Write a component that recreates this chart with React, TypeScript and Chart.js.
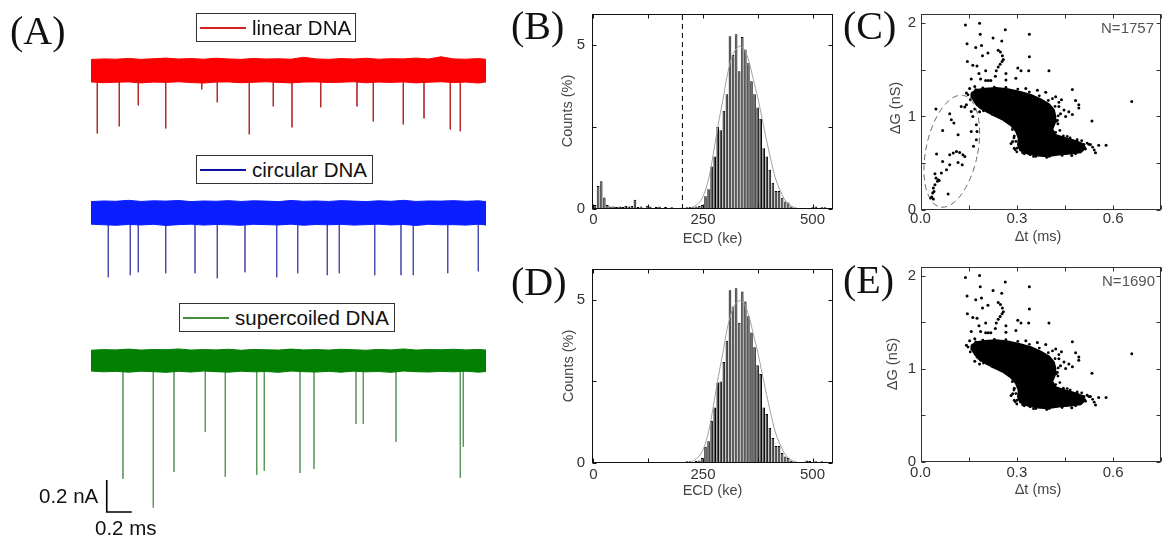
import React, { useEffect, useRef } from 'react';
import { Chart, registerables } from 'chart.js';

Chart.register(...registerables);

const SANS = '"Liberation Sans", Arial, sans-serif';
const SERIF = '"Liberation Serif", "Times New Roman", serif';

// ---------------- Panel A : current traces ----------------
const ENV_T = [0, 0.1, 0.2, 0.3, 0.4, 0.5, 0.6, 0.7, 0.8, 0.9, 1.0, 1.1, 1.2, 1.3, 1.4, 1.5, 1.6, 1.7, 1.8, 1.9, 2.0, 2.1, 2.2, 2.3, 2.4, 2.5, 2.6, 2.7, 2.8, 2.9, 3.0, 3.1, 3.16];
const RED_BASE = -0.44;
const BLUE_BASE = -1.33;
const GREEN_BASE = -2.253;
const RED_UP = [0.068, 0.072, 0.070, 0.075, 0.069, 0.073, 0.077, 0.071, 0.074, 0.070, 0.076, 0.072, 0.069, 0.075, 0.071, 0.073, 0.070, 0.082, 0.072, 0.069, 0.074, 0.071, 0.076, 0.070, 0.073, 0.072, 0.077, 0.071, 0.085, 0.072, 0.070, 0.074, 0.069];
const RED_DN = [0.072, 0.077, 0.074, 0.072, 0.078, 0.073, 0.075, 0.071, 0.076, 0.079, 0.073, 0.072, 0.077, 0.074, 0.071, 0.075, 0.078, 0.073, 0.072, 0.076, 0.074, 0.071, 0.077, 0.073, 0.075, 0.072, 0.078, 0.074, 0.071, 0.076, 0.073, 0.079, 0.072];
const BLUE_UP = [0.070, 0.074, 0.072, 0.078, 0.071, 0.075, 0.073, 0.077, 0.070, 0.074, 0.072, 0.076, 0.071, 0.075, 0.073, 0.070, 0.077, 0.072, 0.074, 0.071, 0.076, 0.073, 0.070, 0.075, 0.072, 0.078, 0.071, 0.074, 0.073, 0.076, 0.072, 0.075, 0.070];
const BLUE_DN = [0.071, 0.075, 0.078, 0.073, 0.076, 0.072, 0.079, 0.074, 0.071, 0.077, 0.073, 0.075, 0.078, 0.072, 0.074, 0.076, 0.071, 0.078, 0.073, 0.075, 0.072, 0.077, 0.074, 0.071, 0.076, 0.073, 0.079, 0.072, 0.075, 0.074, 0.077, 0.071, 0.076];
const GREEN_UP = [0.064, 0.068, 0.066, 0.071, 0.065, 0.069, 0.067, 0.072, 0.065, 0.068, 0.066, 0.070, 0.064, 0.069, 0.067, 0.065, 0.071, 0.066, 0.068, 0.065, 0.070, 0.067, 0.064, 0.069, 0.066, 0.072, 0.065, 0.068, 0.067, 0.070, 0.066, 0.069, 0.065];
const GREEN_DN = [0.066, 0.071, 0.068, 0.073, 0.067, 0.070, 0.074, 0.068, 0.072, 0.066, 0.070, 0.073, 0.067, 0.071, 0.069, 0.074, 0.066, 0.070, 0.072, 0.068, 0.073, 0.067, 0.071, 0.069, 0.074, 0.066, 0.070, 0.072, 0.068, 0.071, 0.067, 0.073, 0.069];

const RED_SPIKE_T = [0.050, 0.226, 0.378, 0.598, 0.886, 1.010, 1.266, 1.458, 1.608, 1.838, 2.128, 2.258, 2.498, 2.664, 2.874, 2.954];
const RED_SPIKE_DEPTH = [0.394, 0.35, 0.219, 0.363, 0.119, 0.2, 0.4, 0.225, 0.356, 0.231, 0.225, 0.319, 0.338, 0.3, 0.369, 0.381];
const BLUE_SPIKE_T = [0.138, 0.314, 0.378, 0.598, 0.832, 1.010, 1.232, 1.486, 1.654, 1.890, 1.986, 2.270, 2.480, 2.578, 2.854, 3.098];
const BLUE_SPIKE_DEPTH = [0.403, 0.39, 0.372, 0.378, 0.378, 0.409, 0.372, 0.403, 0.378, 0.39, 0.378, 0.39, 0.39, 0.39, 0.378, 0.366];
const GREEN_SPIKE_T = [0.256, 0.498, 0.664, 0.914, 1.074, 1.326, 1.386, 1.672, 1.784, 2.12, 2.178, 2.44, 2.954, 2.978];
const GREEN_SPIKE_DEPTH = [0.74, 0.92, 0.697, 0.447, 0.728, 0.715, 0.69, 0.703, 0.678, 0.397, 0.397, 0.509, 0.734, 0.54];

const SCALEBAR_T = [0.126, 0.126, 0.326];
const SCALEBAR_I = [-3.0, -3.2, -3.2];

// ---------------- Panels B / D : ECD histograms ----------------
const BIN_WIDTH = 7;
const B_COUNTS = [
  0.12, 0.7, 0.85, 0.35, 0.12, 0.08, 0.08, 0.06, 0.08, 0.06,
  0.1, 0.08, 0.1, 0.28, 0.06, 0.08, 0.04, 0.1, 0.08, 0.03,
  0.06, 0.08, 0.03, 0.06, 0, 0.05, 0.03, 0, 0.04, 0.04,
  0.05, 0.06, 0.05, 0.08, 0.1, 0.12, 0.39, 0.6, 1.3, 1.6,
  2.5, 2.4, 3.0, 3.5, 5.27, 4.7, 5.33, 4.2, 5.25, 4.87,
  4.45, 3.9, 3.5, 3.1, 2.75, 1.85, 1.6, 1.2, 0.8, 0.55,
  0.55, 0.34, 0.23, 0.2, 0.08, 0, 0, 0, 0, 0,
  0, 0.05, 0.08, 0.03, 0.05, 0.05, 0.03, 0];
const D_COUNTS = [
  0, 0, 0, 0, 0, 0, 0, 0, 0, 0,
  0, 0, 0, 0, 0, 0, 0, 0, 0, 0,
  0, 0, 0, 0, 0, 0, 0, 0, 0, 0,
  0.05, 0.05, 0.03, 0.06, 0.08, 0.15, 0.5, 0.67, 1.29, 1.7,
  2.47, 2.5, 3.1, 3.75, 5.3, 4.8, 5.36, 4.3, 5.26, 4.95,
  4.5, 4.0, 3.55, 3.0, 2.73, 1.7, 1.5, 1.08, 0.77, 0.52,
  0.52, 0.31, 0.2, 0.15, 0.07, 0, 0, 0, 0.04, 0.08,
  0.06, 0.03, 0.05, 0, 0.05, 0.04, 0.03, 0];
const ECD_BINS = B_COUNTS.map((_, k) => BIN_WIDTH * k + BIN_WIDTH / 2);
const FIT_ECD = [215, 225, 235, 245, 255, 265, 275, 285, 295, 305, 315, 325, 335, 345, 355, 365, 375, 385, 395, 405, 415, 425, 435, 445, 455, 465];
const FIT_B = [0.0, 0.05, 0.12, 0.26, 0.55, 1.05, 1.8, 2.6, 3.3, 4.05, 4.6, 4.88, 4.97, 4.85, 4.5, 3.95, 3.4, 2.75, 2.1, 1.5, 0.95, 0.6, 0.32, 0.15, 0.07, 0.02];
const FIT_D = [0.0, 0.05, 0.13, 0.28, 0.58, 1.1, 1.85, 2.65, 3.35, 4.1, 4.62, 4.9, 4.98, 4.86, 4.5, 3.95, 3.4, 2.75, 2.1, 1.5, 0.95, 0.6, 0.32, 0.15, 0.07, 0.02];
const ECD_CUTOFF = 203;
const ECD_TICKS = [0, 125, 250, 375, 500];
const ECD_TICK_LABELS = ['0', '', '250', '', '500'];
const COUNT_TICKS = [0, 2.5, 5];
const COUNT_TICK_LABELS = ['0', '', '5'];

// ---------------- Panels C / E : scatter ----------------
const OUT_DT = [0.140, 0.184, 0.186, 0.264, 0.339, 0.226, 0.145, 0.172, 0.190, 0.253, 0.210, 0.193, 0.339,
  0.242, 0.249, 0.255, 0.258, 0.254, 0.248, 0.242,
  0.146, 0.163, 0.176, 0.203, 0.182, 0.236, 0.266, 0.303, 0.313, 0.337, 0.400,
  0.158, 0.187, 0.233, 0.266, 0.297, 0.203, 0.211, 0.219, 0.169, 0.153, 0.143,
  0.328, 0.364, 0.390, 0.421, 0.439, 0.473, 0.483, 0.493, 0.493, 0.658,
  0.462, 0.473, 0.452, 0.534, 0.426, 0.169, 0.184, 0.292, 0.282, 0.292,
  0.509, 0.529, 0.555, 0.578, 0.545, 0.471, 0.457, 0.431, 0.447, 0.436, 0.395, 0.287, 0.308];
const OUT_DG = [1.98, 2.00, 1.88, 1.93, 1.88, 1.84, 1.78, 1.74, 1.76, 1.81, 1.68, 1.65, 1.64,
  1.71, 1.69, 1.65, 1.61, 1.59, 1.56, 1.53,
  1.59, 1.55, 1.54, 1.49, 1.46, 1.49, 1.46, 1.52, 1.49, 1.49, 1.49,
  1.40, 1.40, 1.43, 1.39, 1.41, 1.386, 1.386, 1.386, 1.32, 1.30, 1.25,
  1.30, 1.28, 1.26, 1.21, 1.18, 1.29, 1.17, 1.125, 1.09, 1.16,
  1.05, 1.02, 1.0, 0.95, 0.96, 1.08, 1.05, 0.79, 0.71, 0.66,
  0.70, 0.70, 0.69, 0.69, 0.61, 0.58, 0.625, 1.107, 1.07, 1.03, 1.07, 0.73, 0.91];
const BLOB_DT = [0.158, 0.174, 0.200, 0.236, 0.272, 0.308, 0.344, 0.375, 0.401, 0.416, 0.421, 0.419, 0.411, 0.421, 0.452, 0.483, 0.506, 0.514, 0.499, 0.468, 0.431, 0.395, 0.364, 0.333, 0.310, 0.303, 0.305, 0.297, 0.282, 0.256, 0.230, 0.203, 0.182, 0.169, 0.160, 0.158];
const BLOB_DG = [1.25, 1.286, 1.30, 1.307, 1.293, 1.268, 1.232, 1.186, 1.132, 1.071, 1.0, 0.929, 0.864, 0.804, 0.768, 0.739, 0.707, 0.661, 0.614, 0.60, 0.589, 0.571, 0.579, 0.60, 0.636, 0.696, 0.768, 0.839, 0.90, 0.964, 1.007, 1.054, 1.10, 1.15, 1.204, 1.25];
const EDGE_DT = [0.148, 0.155, 0.176, 0.207, 0.236, 0.266, 0.292, 0.323, 0.318, 0.297, 0.295, 0.323, 0.359, 0.401, 0.441, 0.483, 0.514, 0.519, 0.488, 0.457, 0.421, 0.411, 0.423, 0.429, 0.419, 0.398, 0.370, 0.339, 0.303, 0.266, 0.230, 0.194, 0.172,
  0.286, 0.279, 0.291, 0.300, 0.262, 0.247, 0.224, 0.196, 0.188, 0.434, 0.428, 0.445, 0.466, 0.502, 0.524, 0.536, 0.541, 0.393, 0.352, 0.341, 0.318, 0.301, 0.431, 0.411];
const EDGE_DG = [1.232, 1.179, 1.125, 1.079, 1.029, 0.993, 0.929, 0.875, 0.821, 0.732, 0.643, 0.60, 0.571, 0.571, 0.582, 0.60, 0.65, 0.714, 0.75, 0.786, 0.829, 0.893, 0.946, 1.007, 1.107, 1.171, 1.221, 1.261, 1.293, 1.311, 1.314, 1.307, 1.286,
  0.86, 0.94, 0.77, 0.62, 0.97, 1.0, 1.02, 1.06, 1.09, 0.85, 0.92, 0.79, 0.77, 0.74, 0.70, 0.67, 0.64, 0.56, 0.57, 0.59, 0.61, 0.66, 1.15, 1.19];
const CONLY_DT = [0.048, 0.091, 0.096, 0.069, 0.104, 0.117, 0.127, 0.138, 0.143, 0.158, 0.163, 0.158, 0.176, 0.174, 0.165, 0.050, 0.091, 0.102, 0.112, 0.122, 0.132, 0.138, 0.117, 0.130, 0.091, 0.069, 0.081, 0.065, 0.045, 0.048, 0.055, 0.053, 0.058, 0.045, 0.040, 0.042, 0.038, 0.035, 0.040, 0.031, 0.086, 0.174];
const CONLY_DG = [1.079, 1.029, 0.964, 0.85, 0.929, 0.804, 1.107, 1.10, 1.125, 1.054, 1.00, 0.839, 0.839, 0.75, 0.679, 0.596, 0.589, 0.607, 0.625, 0.614, 0.589, 0.571, 0.507, 0.482, 0.482, 0.518, 0.429, 0.393, 0.386, 0.339, 0.321, 0.304, 0.314, 0.268, 0.232, 0.196, 0.179, 0.136, 0.114, 0.125, 0.168, 0.91];
const ELLIPSE = { dt: 0.0974, dg: 0.627, rdt: 0.0804, rdg: 0.611, rot: 0.206 };
const DT_TICKS = [0, 0.15, 0.3, 0.45, 0.6, 0.75];
const DT_TICK_LABELS = ['0.0', '', '0.3', '', '0.6', ''];
const DG_TICKS = [0, 0.5, 1, 1.5, 2];
const DG_TICK_LABELS = ['0', '', '1', '', '2'];

// ---------------- helpers ----------------
const pts = (xs: number[], ys: number[]) => xs.map((x, i) => ({ x, y: ys[i] }));

function band(base: number, up: number[], dn: number[], color: string) {
  return [
    { data: ENV_T.map((t, i) => ({ x: t, y: base + up[i] })), fill: '+1', backgroundColor: color, borderColor: color, borderWidth: 1, pointRadius: 0 },
    { data: ENV_T.map((t, i) => ({ x: t, y: base - dn[i] })), fill: false, borderColor: color, borderWidth: 1, pointRadius: 0 },
  ];
}
function spikes(base: number, ts: number[], depths: number[], color: string) {
  const data: any[] = [];
  ts.forEach((t, i) => {
    data.push({ x: t, y: base - 0.05 }, { x: t, y: base - depths[i] }, { x: t, y: null });
  });
  return { data, borderColor: color, borderWidth: 1, pointRadius: 0, fill: false, spanGaps: false };
}

type FrameCfg = {
  xTicks: number[]; xLabels: string[]; yTicks: number[]; yLabels: string[];
  xLabelY: number; yLabelX: number; xTitle: string; xTitlePos: [number, number];
  yTitle: string; yTitlePos: [number, number]; frameColor: string;
  note?: { text: string; x: number; y: number };
  ellipse?: typeof ELLIPSE;
};
function framePlugin(cfg: FrameCfg) {
  return {
    id: 'frame',
    afterDatasetsDraw(chart: any) {
      if (!cfg.ellipse) return;
      const { ctx, scales } = chart;
      const e = cfg.ellipse;
      const cx = scales.x.getPixelForValue(e.dt);
      const cy = scales.y.getPixelForValue(e.dg);
      const rx = Math.abs(scales.x.getPixelForValue(e.dt + e.rdt) - cx);
      const ry = Math.abs(scales.y.getPixelForValue(e.dg + e.rdg) - cy);
      ctx.save();
      ctx.strokeStyle = '#5a5a5a';
      ctx.lineWidth = 0.9;
      ctx.setLineDash([6, 4]);
      ctx.beginPath();
      ctx.ellipse(cx, cy, rx, ry, e.rot, 0, Math.PI * 2);
      ctx.stroke();
      ctx.restore();
    },
    afterDraw(chart: any) {
      const { ctx, chartArea: a, scales } = chart;
      const xs = scales.x, ys = scales.y;
      ctx.save();
      ctx.strokeStyle = cfg.frameColor;
      ctx.lineWidth = 1;
      const L = Math.round(a.left) + 0.5, R = Math.round(a.right) - 0.5;
      const T = Math.round(a.top) + 0.5, B = Math.round(a.bottom) - 0.5;
      ctx.strokeRect(L, T, R - L, B - T);
      ctx.beginPath();
      cfg.xTicks.forEach((v) => {
        const px = Math.round(xs.getPixelForValue(v)) + 0.5;
        ctx.moveTo(px, B); ctx.lineTo(px, B - 4);
        ctx.moveTo(px, T); ctx.lineTo(px, T + 4);
      });
      cfg.yTicks.forEach((v) => {
        const py = Math.round(ys.getPixelForValue(v)) + 0.5;
        ctx.moveTo(L, py); ctx.lineTo(L + 4, py);
        ctx.moveTo(R, py); ctx.lineTo(R - 4, py);
      });
      ctx.stroke();
      ctx.fillStyle = '#333';
      ctx.font = `15px ${SANS}`;
      ctx.textAlign = 'center';
      ctx.textBaseline = 'middle';
      cfg.xTicks.forEach((v, i) => {
        if (cfg.xLabels[i]) ctx.fillText(cfg.xLabels[i], xs.getPixelForValue(v), cfg.xLabelY);
      });
      ctx.textAlign = 'right';
      cfg.yTicks.forEach((v, i) => {
        if (cfg.yLabels[i]) ctx.fillText(cfg.yLabels[i], cfg.yLabelX, ys.getPixelForValue(v));
      });
      ctx.fillStyle = '#444';
      ctx.font = `14.5px ${SANS}`;
      ctx.textAlign = 'center';
      ctx.fillText(cfg.xTitle, cfg.xTitlePos[0], cfg.xTitlePos[1]);
      ctx.save();
      ctx.translate(cfg.yTitlePos[0], cfg.yTitlePos[1]);
      ctx.rotate(-Math.PI / 2);
      ctx.fillText(cfg.yTitle, 0, 0);
      ctx.restore();
      if (cfg.note) {
        ctx.fillStyle = '#555';
        ctx.font = `15px ${SANS}`;
        ctx.textAlign = 'right';
        ctx.fillText(cfg.note.text, cfg.note.x, cfg.note.y);
      }
      ctx.restore();
    },
  };
}

// ---------------- chart configs ----------------
function configA(): any {
  return {
    type: 'line',
    data: {
      datasets: [
        ...band(RED_BASE, RED_UP, RED_DN, '#fa0000'),
        ...band(BLUE_BASE, BLUE_UP, BLUE_DN, '#0a1eff'),
        ...band(GREEN_BASE, GREEN_UP, GREEN_DN, '#007f00'),
        spikes(RED_BASE, RED_SPIKE_T, RED_SPIKE_DEPTH, 'rgba(175,25,25,0.75)'),
        spikes(BLUE_BASE, BLUE_SPIKE_T, BLUE_SPIKE_DEPTH, 'rgba(50,50,170,0.65)'),
        spikes(GREEN_BASE, GREEN_SPIKE_T, GREEN_SPIKE_DEPTH, 'rgba(50,125,50,0.55)'),
        { data: pts(SCALEBAR_T, SCALEBAR_I), borderColor: '#000', borderWidth: 1.6, pointRadius: 0, fill: false },
      ],
    },
    options: {
      responsive: false, animation: false, events: [],
      layout: { padding: 0 },
      elements: { line: { tension: 0 } },
      scales: {
        x: { type: 'linear', min: -0.728, max: 3.272, display: false },
        y: { type: 'linear', min: -3.38125, max: 0, display: false },
      },
      plugins: { legend: { display: false }, tooltip: { enabled: false } },
    },
  };
}

function configHist(counts: number[], fit: number[], cutoff: boolean, pad: any, cfg: FrameCfg): any {
  const datasets: any[] = [
    { type: 'line', data: pts(FIT_ECD, fit), borderColor: '#a0a0a0', borderWidth: 1, pointRadius: 0, fill: false, tension: 0.3 },
  ];
  if (cutoff) {
    datasets.push({ type: 'line', data: [{ x: ECD_CUTOFF, y: 0 }, { x: ECD_CUTOFF, y: 5.95 }], borderColor: '#000', borderWidth: 1, borderDash: [5, 4], pointRadius: 0, fill: false });
  }
  datasets.push({
    type: 'bar', data: pts(ECD_BINS, counts), backgroundColor: '#5a5a5a', borderColor: '#000',
    borderWidth: { top: 1, right: 1, left: 0, bottom: 0 }, borderSkipped: 'start',
    categoryPercentage: 1, barPercentage: 0.9,
  });
  return {
    type: 'bar',
    data: { datasets },
    options: {
      responsive: false, animation: false, events: [],
      layout: { padding: pad },
      scales: {
        x: { type: 'linear', min: -3.4, max: 546.8, offset: false, display: false },
        y: { type: 'linear', min: 0, max: 5.95, display: false },
      },
      plugins: { legend: { display: false }, tooltip: { enabled: false } },
    },
    plugins: [framePlugin(cfg)],
  };
}

function configScatter(withEllipseGroup: boolean, pad: any, cfg: FrameCfg): any {
  const datasets: any[] = [
    { data: pts(OUT_DT, OUT_DG), backgroundColor: '#000', pointRadius: 1.5, pointBorderWidth: 0 },
    { data: pts(EDGE_DT, EDGE_DG), backgroundColor: '#000', pointRadius: 1.4, pointBorderWidth: 0 },
    { data: pts(BLOB_DT, BLOB_DG), showLine: true, fill: 'shape', backgroundColor: '#000', borderColor: '#000', borderWidth: 1.5, pointRadius: 0, tension: 0 },
  ];
  if (withEllipseGroup) {
    datasets.push({ data: pts(CONLY_DT, CONLY_DG), backgroundColor: '#000', pointRadius: 1.5, pointBorderWidth: 0 });
  }
  return {
    type: 'scatter',
    data: { datasets },
    options: {
      responsive: false, animation: false, events: [],
      layout: { padding: pad },
      scales: {
        x: { type: 'linear', min: 0, max: 0.749, display: false },
        y: { type: 'linear', min: 0, max: 2.095, display: false },
      },
      plugins: { legend: { display: false }, tooltip: { enabled: false } },
    },
    plugins: [framePlugin(cfg)],
  };
}

// ---------------- components ----------------
function ChartCanvas({ left, top, width, height, make }: { left: number; top: number; width: number; height: number; make: () => any }) {
  const ref = useRef<HTMLCanvasElement>(null);
  useEffect(() => {
    const chart = new Chart(ref.current as HTMLCanvasElement, make());
    return () => chart.destroy();
  }, []);
  return <canvas ref={ref} width={width} height={height} style={{ position: 'absolute', left, top, width, height }} />;
}

function PanelLabel({ text, left, top }: { text: string; left: number; top: number }) {
  return <div style={{ position: 'absolute', left, top, font: `40px/40px ${SERIF}`, color: '#111', whiteSpace: 'nowrap' }}>{text}</div>;
}

function LegendBox({ left, top, width, color, label }: { left: number; top: number; width: number; color: string; label: string }) {
  return (
    <div style={{ position: 'absolute', left, top, width, height: 29, boxSizing: 'border-box', border: '1px solid #333', background: '#fff' }}>
      <div style={{ position: 'absolute', left: 3, top: 13, width: 46, height: 1.5, background: color }} />
      <div style={{ position: 'absolute', left: 55, top: 0, font: `20.5px/27px ${SANS}`, color: '#111', whiteSpace: 'nowrap' }}>{label}</div>
    </div>
  );
}

export default function App() {
  const bCfg: FrameCfg = {
    xTicks: ECD_TICKS, xLabels: ECD_TICK_LABELS, yTicks: COUNT_TICKS, yLabels: COUNT_TICK_LABELS,
    xLabelY: 220, yLabelX: 45, xTitle: 'ECD (ke)', xTitlePos: [172.5, 239], yTitle: 'Counts (%)', yTitlePos: [28, 111], frameColor: '#111',
  };
  const dCfg: FrameCfg = { ...bCfg, xLabelY: 220, xTitlePos: [172.5, 236], yTitlePos: [28.5, 111] };
  const cCfg: FrameCfg = {
    xTicks: DT_TICKS, xLabels: DT_TICK_LABELS, yTicks: DG_TICKS, yLabels: DG_TICK_LABELS,
    xLabelY: 219, yLabelX: 56, xTitle: 'Δt (ms)', xTitlePos: [178, 237], yTitle: 'ΔG (nS)', yTitlePos: [35.5, 108], frameColor: '#333',
    note: { text: 'N=1757', x: 294, y: 29 }, ellipse: ELLIPSE,
  };
  const eCfg: FrameCfg = { ...cCfg, xLabelY: 218, xTitlePos: [178, 235], yTitlePos: [33, 109], note: { text: 'N=1690', x: 295, y: 27 }, ellipse: undefined };

  return (
    <div style={{ position: 'absolute', left: 0, top: 0, width: 1165, height: 541, background: '#fff', overflow: 'hidden' }}>
      <ChartCanvas left={0} top={0} width={500} height={541} make={configA} />
      <ChartCanvas left={540} top={0} width={320} height={255} make={() => configHist(B_COUNTS, FIT_B, true, { left: 52, top: 14, right: 27, bottom: 46 }, bCfg)} />
      <ChartCanvas left={540} top={255} width={320} height={286} make={() => configHist(D_COUNTS, FIT_D, false, { left: 52, top: 14, right: 27, bottom: 78 }, dCfg)} />
      <ChartCanvas left={860} top={0} width={305} height={255} make={() => configScatter(true, { left: 60.5, top: 14.3, right: 2.5, bottom: 45.3 }, cCfg)} />
      <ChartCanvas left={860} top={255} width={305} height={286} make={() => configScatter(false, { left: 60.5, top: 11.7, right: 2, bottom: 79.3 }, eCfg)} />

      <PanelLabel text="(A)" left={10} top={11} />
      <PanelLabel text="(B)" left={511} top={6} />
      <PanelLabel text="(C)" left={843} top={6} />
      <PanelLabel text="(D)" left={511} top={262} />
      <PanelLabel text="(E)" left={843} top={260} />

      <LegendBox left={196} top={13} width={160} color="#d42020" label="linear DNA" />
      <LegendBox left={196} top={155} width={177} color="#1010a0" label="circular DNA" />
      <LegendBox left={179} top={303} width={216} color="#3f8f3f" label="supercoiled DNA" />

      <div style={{ position: 'absolute', left: 39, top: 484, font: `20.5px/24px ${SANS}`, color: '#111', whiteSpace: 'nowrap' }}>0.2 nA</div>
      <div style={{ position: 'absolute', left: 95, top: 516, font: `20.5px/24px ${SANS}`, color: '#111', whiteSpace: 'nowrap' }}>0.2 ms</div>
    </div>
  );
}
